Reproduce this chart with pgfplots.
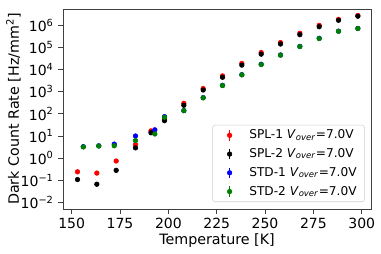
\documentclass[border=0pt]{standalone}
\usepackage{fontspec}
\setmainfont{DejaVu Sans}
\usepackage{pgfplots}
\pgfplotsset{compat=1.18}
\definecolor{mplgreen}{rgb}{0,0.5,0}
\newcommand{\vo}{\textit{V}\textsubscript{\textit{over}}}
\begin{document}
\begin{tikzpicture}
\begin{axis}[
  scale only axis, width=231pt, height=150pt,
  ymode=log, xmin=145.5, xmax=304.8, ymin=5e-3, ymax=5.5e6,
  xtick={150,175,...,300},
  ytick={1e-2,1e-1,1,1e1,1e2,1e3,1e4,1e5,1e6},
  yticklabels={10\textsuperscript{−2},10\textsuperscript{−1},10\textsuperscript{0},10\textsuperscript{1},10\textsuperscript{2},10\textsuperscript{3},10\textsuperscript{4},10\textsuperscript{5},10\textsuperscript{6}},
  minor tick num=0, yminorticks=false,
  tick align=outside, tick pos=left,
  major tick length=3.5pt,
  /pgf/number format/assume math mode=true,
  tick label style={font=\fontsize{10.5}{12}\selectfont},
  label style={font=\fontsize{10.7}{13}\selectfont},
  xlabel={Temperature [K]}, ylabel={Dark Count Rate [Hz/mm\textsuperscript{2}]},
  xlabel style={yshift=3pt}, ylabel style={yshift=-7pt},
  axis line style={draw=black!75, line width=0.6pt},
  every tick/.style={black!75, line width=0.6pt},
  legend style={at={(0.98,0.035)}, anchor=south east, draw=black!18, rounded corners=2pt,
    font=\fontsize{9.1}{10}\selectfont, row sep=1.8pt, inner xsep=4pt, inner ysep=1.5pt},
  legend cell align=left,
  legend image code/.code={\draw[#1,line width=0.9pt] (0.31cm,-0.14cm) -- (0.31cm,0.14cm); \fill[#1] (0.31cm,0cm) circle (1.75pt); \path[draw=none,fill=none] (0cm,0cm) rectangle (0.76cm,0.01cm);},
  every axis plot/.append style={only marks, mark=*, mark size=1.75pt},
]
\addplot[red, mark options={fill=red, draw=red}] coordinates {
(153,0.24)(163,0.21)(173,0.74)(183,4.1)(191,17)(198,56)(208,300)(218,1390)(228,5200)(238,19000)(248,59000)(258,167000)(268,440000)(278,1.0e6)(288,1.87e6)(298,2.8e6)};
\addlegendentry{SPL-1 \vo=7.0V}
\addplot[black, mark options={fill=black, draw=black}] coordinates {
(153,0.107)(163,0.066)(173,0.28)(183,2.9)(191,14)(198,49)(208,245)(218,1200)(228,4500)(238,16000)(248,50000)(258,144000)(268,380000)(278,870000)(288,1.7e6)(298,2.6e6)};
\addlegendentry{SPL-2 \vo=7.0V}
\addplot[blue, mark options={fill=blue, draw=blue}] coordinates {
(156,3.3)(164,3.6)(172,4.3)(183,10)(193,19)(198,75)(208,140)(218,540)(228,1950)(238,5900)(248,17500)(258,46000)(268,112000)(278,260000)(288,550000)(298,730000)};
\addlegendentry{STD-1 \vo=7.0V}
\addplot[mplgreen, mark options={fill=mplgreen, draw=mplgreen}] coordinates {
(156,3.2)(164,3.5)(172,3.6)(183,6.2)(193,12.3)(198,70)(208,140)(218,530)(228,1900)(238,5800)(248,17000)(258,45000)(268,110000)(278,255000)(288,540000)(298,720000)};
\addlegendentry{STD-2 \vo=7.0V}
\end{axis}
\pgfresetboundingbox
\path[use as bounding box] ([shift={(-47.25pt,-33pt)}]current axis.south west) rectangle ([shift={(7.5pt,6.75pt)}]current axis.north east);
\end{tikzpicture}
\end{document}
